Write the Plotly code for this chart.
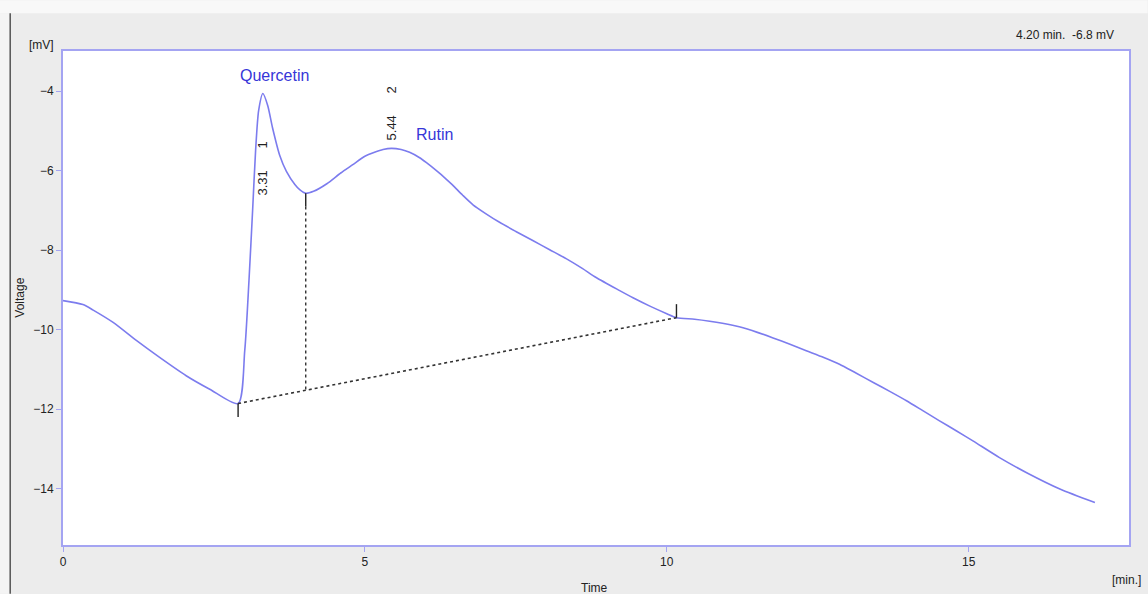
import plotly.graph_objects as go

# Chromatogram trace: retention time (min) and detector signal (mV)
time_min = [0.00, 0.33, 0.50, 0.83, 1.22, 1.60, 2.04, 2.43, 2.90,
            3.01, 3.08, 3.14, 3.19, 3.24, 3.31, 3.39, 3.47, 3.59, 3.70,
            3.84, 3.92, 4.02, 4.15, 4.37, 4.60, 4.80, 5.00, 5.16, 5.30, 5.44,
            5.60, 5.74, 5.90, 6.02, 6.20, 6.35, 6.45, 6.62, 6.79, 7.00, 7.23,
            7.50, 7.78, 8.06, 8.34, 8.60, 8.83, 9.22, 9.44, 9.72, 10.00, 10.16,
            10.46, 10.71, 11.09, 11.20, 11.50, 11.76, 12.04, 12.31, 12.60,
            12.86, 13.14, 13.42, 13.70, 13.97, 14.24, 14.51, 14.80, 15.07,
            15.51, 15.96, 16.51, 17.09]
signal_mv = [-9.27, -9.37, -9.51, -9.82, -10.28, -10.70, -11.16, -11.50, -11.86,
             -10.53, -8.77, -7.01, -5.49, -4.49, -4.06, -4.36, -4.92, -5.62, -6.02,
             -6.35, -6.48, -6.57, -6.52, -6.33, -6.06, -5.85, -5.64, -5.54, -5.47, -5.44,
             -5.47, -5.54, -5.67, -5.80, -6.02, -6.22, -6.36, -6.62, -6.86, -7.08, -7.30,
             -7.53, -7.76, -7.99, -8.22, -8.46, -8.69, -9.02, -9.20, -9.41, -9.60, -9.70,
             -9.74, -9.79, -9.89, -9.93, -10.07, -10.21, -10.37, -10.53, -10.70,
             -10.87, -11.10, -11.33, -11.56, -11.79, -12.04, -12.29, -12.55, -12.80,
             -13.22, -13.60, -14.01, -14.35]

# Integration baseline and peak split
baseline_t = [2.90, 10.16]
baseline_v = [-11.86, -9.70]
split_t = 4.02
split_v = -6.57

# Peak table
peak_no = [1, 2]
peak_rt = [3.31, 5.44]
peak_name = ["Quercetin", "Rutin"]
peak_num_y = [-5.95, -4.55]
peak_name_pos = [(3.506, -3.60), (6.16, -5.09)]

x_ticks = [0, 5, 10, 15]
y_ticks = [-4, -6, -8, -10, -12, -14]

LINE = "#7c7cee"
FRAME = "#a4a4f2"
FONT = "Liberation Sans"

# Plot-box pixel geometry used to place free-standing labels
L, R, T, B = 63.3, 1129.3, 50.7, 545.3


def px(x):
    return (x - L) / (R - L)


def py(y):
    return (B - y) / (B - T)


fig = go.Figure()

fig.add_trace(go.Scatter(
    x=time_min, y=signal_mv, mode="lines",
    line=dict(color=LINE, width=1.6, shape="spline", smoothing=0.7),
    hoverinfo="skip", showlegend=False))

fig.add_trace(go.Scatter(
    x=baseline_t, y=baseline_v, mode="lines",
    line=dict(color="#333333", width=1.6, dash="3px,3px"),
    hoverinfo="skip", showlegend=False))

drop_v = baseline_v[0] + (split_t - baseline_t[0]) / (baseline_t[1] - baseline_t[0]) * (baseline_v[1] - baseline_v[0])
fig.add_trace(go.Scatter(
    x=[split_t, split_t], y=[split_v - 0.33, drop_v], mode="lines",
    line=dict(color="#333333", width=1.4, dash="3px,3px"),
    hoverinfo="skip", showlegend=False))

# Solid integration markers
markers = [
    (baseline_t[0], baseline_v[0], baseline_v[0] - 0.34),
    (baseline_t[1], baseline_v[1], baseline_v[1] + 0.34),
    (split_t, split_v, split_v - 0.33),
]
for t, y0, y1 in markers:
    fig.add_shape(type="line", xref="x", yref="y", x0=t, x1=t, y0=y0, y1=y1,
                  line=dict(color="#222222", width=1.4))

# Peak labels
gap = "\u00a0" * 6
for n, rt, ny, name, (nx, nyy) in zip(peak_no, peak_rt, peak_num_y, peak_name, peak_name_pos):
    fig.add_annotation(x=rt, y=ny, xref="x", yref="y", text=f"{rt:.2f}{gap}{n}",
                       textangle=-90, showarrow=False,
                       xanchor="center", yanchor="middle",
                       font=dict(family=FONT, size=13, color="#222222"))
    fig.add_annotation(x=nx, y=nyy, xref="x", yref="y", text=name, showarrow=False,
                       xanchor="center", yanchor="middle",
                       font=dict(family=FONT, size=16, color="#3636d8"))

# Frame decorations: header strip and left rule
fig.add_shape(type="rect", xref="paper", yref="paper", layer="below",
              x0=px(0), x1=px(1148), y0=py(13), y1=py(0),
              fillcolor="#f8f8f8", line=dict(width=0))
fig.add_shape(type="rect", xref="paper", yref="paper", layer="below",
              x0=px(0), x1=px(10), y0=py(594), y1=py(13),
              fillcolor="#f4f4f4", line=dict(width=0))
fig.add_shape(type="line", xref="paper", yref="paper",
              x0=px(10.5), x1=px(10.5), y0=py(594), y1=py(13),
              line=dict(color="#555555", width=1.5))

text_font = dict(family=FONT, size=12, color="#222222")


def label(xp, yp, text, anchor="center", angle=0):
    fig.add_annotation(x=px(xp), y=py(yp), xref="paper", yref="paper", text=text,
                       xanchor=anchor, yanchor="middle", textangle=angle,
                       showarrow=False, font=text_font)


label(42, 45, "[mV]")
label(1116, 35, "4.20 min.  -6.8 mV", anchor="right")
label(20, 298, "Voltage", angle=-90)
label(595, 588, "Time")
label(1127, 580, "[min.]")

axis_common = dict(showgrid=False, zeroline=False, showline=True, mirror=True,
                   linecolor=FRAME, linewidth=2, ticks="outside", ticklen=5,
                   tickcolor=FRAME, tickwidth=1,
                   tickfont=dict(family=FONT, size=12, color="#222222"))

fig.update_layout(
    width=1148, height=594,
    margin=dict(l=63, r=19, t=51, b=49),
    paper_bgcolor="#ececec",
    plot_bgcolor="#ffffff",
    xaxis=dict(range=[0, 17.655], tickvals=x_ticks, **axis_common),
    yaxis=dict(range=[-15.42, -2.99], tickvals=y_ticks, **axis_common),
)

fig.write_html("out.html")
